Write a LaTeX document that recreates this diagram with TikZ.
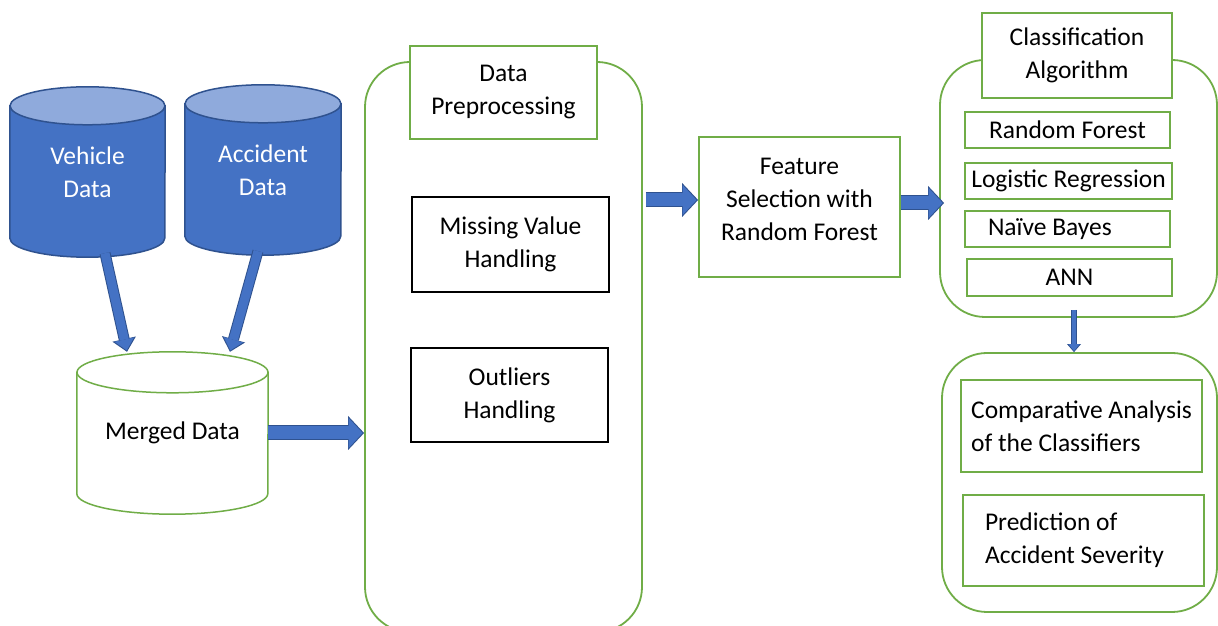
\documentclass[tikz,border=0pt]{standalone}
\usepackage{fontspec}
\setmainfont{Carlito}
\usetikzlibrary{arrows.meta, backgrounds, calc}
\definecolor{boxgreen}{HTML}{70AD47}
\definecolor{dbblue}{HTML}{4472C4}
\definecolor{dbtop}{HTML}{8FAADC}
\definecolor{dbedge}{HTML}{2F528F}

\begin{document}
\begin{tikzpicture}[x=1pt, y=1pt,
  every node/.style={font=\fontsize{25.5}{33}\selectfont, align=center, inner sep=0pt},
  greenbox/.style={draw=boxgreen, line width=1.8pt, fill=white},
  blackbox/.style={draw=black, line width=1.8pt, fill=white},
  panel/.style={draw=boxgreen, line width=1.8pt, rounded corners=45pt},
  fatarrow/.style={dbblue, line width=13pt, shorten >=1.5pt,
    -{Triangle[length=14pt, width=30pt, line width=0pt]},
    preaction={draw=dbedge, line width=15pt, shorten >=0pt,
      -{Triangle[length=16pt, width=34pt, line width=0pt]}}},
  slimarrow/.style={dbblue, line width=9pt, shorten >=1.5pt,
    -{Triangle[length=11pt, width=20pt, line width=0pt]},
    preaction={draw=dbedge, line width=11pt, shorten >=0pt,
      -{Triangle[length=13pt, width=24pt, line width=0pt]}}},
  tinyarrow/.style={dbblue, line width=4pt, shorten >=1pt,
    -{Triangle[length=7pt, width=11pt, line width=0pt]},
    preaction={draw=dbedge, line width=6pt, shorten >=0pt,
      -{Triangle[length=8pt, width=14pt, line width=0pt]}}}]
\useasboundingbox (0,0) rectangle (1218,626);

% data sources
\node[text=white, minimum width=155pt, minimum height=170pt] (veh) at (87.5,454) {Vehicle\\Data};
\node[text=white, minimum width=156pt, minimum height=170pt] (acc) at (263,456) {Accident\\Data};
\node[minimum width=191pt, minimum height=162pt] (mrg) at (172.5,193) {Merged Data};

\begin{scope}[on background layer]
\draw[dbedge, fill=dbblue, line width=1.5pt] ($(veh.north west)+(0,-19)$) -- ($(veh.south west)+(0,19)$)
  arc[start angle=180, end angle=360, x radius=77.5pt, y radius=19pt] -- ($(veh.north east)+(0,-19)$) -- cycle;
\draw[dbedge, fill=dbtop, line width=1.5pt] ($(veh.north)+(0,-19)$) ellipse[x radius=77.5pt, y radius=19pt];
\draw[dbedge, fill=dbblue, line width=1.5pt] ($(acc.north west)+(0,-19)$) -- ($(acc.south west)+(0,19)$)
  arc[start angle=180, end angle=360, x radius=78pt, y radius=19pt] -- ($(acc.north east)+(0,-19)$) -- cycle;
\draw[dbedge, fill=dbtop, line width=1.5pt] ($(acc.north)+(0,-19)$) ellipse[x radius=78pt, y radius=19pt];
\draw[boxgreen, fill=white, line width=1.5pt] ($(mrg.north west)+(0,-20.5)$) -- ($(mrg.south west)+(0,20.5)$)
  arc[start angle=180, end angle=360, x radius=95.5pt, y radius=20.5pt] -- ($(mrg.north east)+(0,-20.5)$) -- cycle;
\draw[boxgreen, fill=white, line width=1.5pt] ($(mrg.north)+(0,-20.5)$) ellipse[x radius=95.5pt, y radius=20.5pt];
\end{scope}

% preprocessing
\node[panel, minimum width=277pt, minimum height=570pt] (prep) at (503.5,279) {};
\node[greenbox, minimum width=187pt, minimum height=93pt] (prept) at (503.5,533.5) {Data\\Preprocessing};
\node[blackbox, minimum width=197pt, minimum height=95pt] (miss) at (510.5,381.5) {Missing Value\\Handling};
\node[blackbox, minimum width=197pt, minimum height=94pt] (outl) at (509.5,231) {Outliers\\Handling};

% feature selection
\node[greenbox, minimum width=201pt, minimum height=140pt] (feat) at (799.5,419) {Feature\\Selection with\\Random Forest\\[-17pt]\mbox{}};

% classifiers
\node[panel, minimum width=277pt, minimum height=257pt] (clf) at (1078.5,437.5) {};
\node[greenbox, minimum width=190pt, minimum height=85pt] (clft) at (1077,570.5) {Classification\\Algorithm};
\node[greenbox, minimum width=205pt, minimum height=36pt] (rf) at (1067.5,496) {Random Forest};
\node[greenbox, minimum width=207pt, minimum height=36pt] (lr) at (1068.5,445) {Logistic Regression};
\node[greenbox, text width=159pt, inner xsep=23pt, align=flush left, minimum height=36pt] (nb) at (1067.5,397) {Naïve Bayes};
\node[greenbox, minimum width=205pt, minimum height=37pt] (ann) at (1069.5,348.5) {ANN};

% results
\node[panel, minimum width=275pt, minimum height=259pt] (res) at (1079.5,143.5) {};
\node[greenbox, align=left, minimum width=241pt, minimum height=92pt] (cmp) at (1081.5,200) {Comparative Analysis\\of the Classifiers};
\node[greenbox, text width=197pt, inner xsep=22pt, align=flush left, minimum height=91pt] (pred) at (1083.5,85.5) {Prediction of\\Accident Severity};

% connectors
\draw[slimarrow] ($(veh.south)+(17.5,4)$) -- ($(mrg.north)+(-45.5,0)$);
\draw[slimarrow] ($(acc.south)+(-5,4)$) -- ($(mrg.north)+(57.5,0)$);
\draw[fatarrow] (mrg.east) -- (mrg.east -| prep.west);
\draw[fatarrow] ($(feat.west -| prep.east)+(3,7)$) -- ($(feat.west)+(0,7)$);
\draw[fatarrow] ($(feat.east)+(0,4)$) -- ($(feat.east -| clf.west)+(5,4)$);
\draw[tinyarrow] ($(clf.south)+(-4.5,8)$) -- ($(res.north)+(-5.5,0)$);
\end{tikzpicture}
\end{document}
